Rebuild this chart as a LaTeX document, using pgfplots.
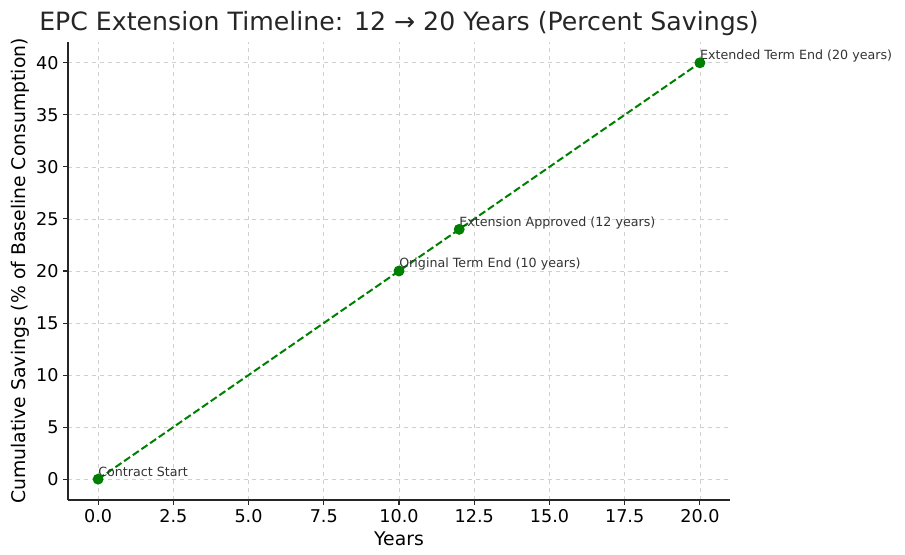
\documentclass[border=0pt]{standalone}
\usepackage{fontspec}
\setmainfont{DejaVu Sans}
\usepackage{pgfplots}
\pgfplotsset{compat=1.18}
\definecolor{mplgreen}{HTML}{008000}
\definecolor{annot}{HTML}{333333}
\definecolor{gridc}{HTML}{D0D0D0}

\begin{document}
\begin{tikzpicture}
\begin{axis}[
    scale only axis,
    width=496.5pt, height=343.5pt,
    xmin=-1, xmax=21,
    ymin=-2, ymax=42,
    axis x line*=bottom,
    axis y line*=left,
    tick align=outside,
    major tick length=3.5pt,
    xtick={0,2.5,...,20},
    ytick={0,5,...,40},
    xticklabel style={/pgf/number format/.cd, fixed, fixed zerofill, precision=1},
    /pgf/number format/assume math mode=true,
    tick label style={font=\fontsize{13.2}{15}\selectfont},
    label style={font=\fontsize{14.1}{17}\selectfont},
    title style={font=\fontsize{18.9}{22}\selectfont, color=black!85, yshift=-4.5pt},
    title={EPC Extension Timeline: 12 → 20 Years (Percent Savings)},
    xlabel={Years},
    ylabel={Cumulative Savings (\% of Baseline Consumption)},
    xlabel style={yshift=0pt},
    ylabel style={yshift=-2pt},
    grid=major,
    major grid style={gridc, dashed, line width=0.6pt},
    axis line style={line width=0.8pt, black!85},
    tick style={line width=0.8pt, black!85},
    clip=false,
]
\addplot[color=mplgreen, line width=1.5pt, dash pattern=on 5.5pt off 2.4pt,
    mark=*, mark size=3.3pt, mark options={solid, fill=mplgreen}]
    coordinates {(0,0) (10,20) (12,24) (20,40)};
\begin{scope}[every node/.style={anchor=base west, inner sep=0pt, text=annot,
        font=\fontsize{9.5}{11}\selectfont}]
\node at (axis cs:0,0.3) {Contract Start};
\node at (axis cs:10,20.3) {Original Term End (10 years)};
\node at (axis cs:12,24.3) {Extension Approved (12 years)};
\node at (axis cs:20,40.3) {Extended Term End (20 years)};
\end{scope}
\end{axis}
\useasboundingbox (-51pt,-41.25pt) rectangle (627.75pt,375pt);
\end{tikzpicture}
\end{document}
